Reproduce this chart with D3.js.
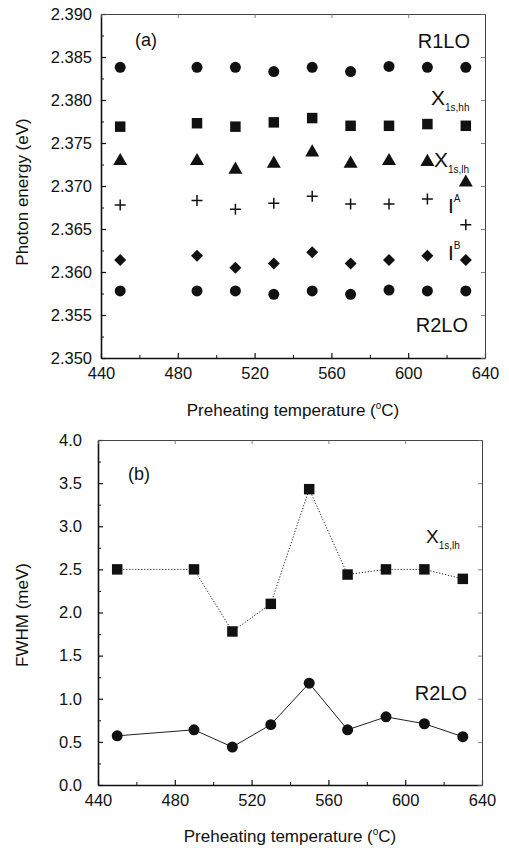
<!DOCTYPE html>
<html>
<head>
<meta charset="utf-8">
<script src="https://cdn.jsdelivr.net/npm/d3@7"></script>
<style>
  html, body { margin: 0; padding: 0; background: #fff; }
  svg { display: block; }
  text { font-family: "Liberation Sans", Arial, Helvetica, sans-serif; fill: #111; }
</style>
</head>
<body>
<svg id="chart" width="509" height="848"></svg>
<script>
// ---------- data ----------
const temps = [450, 490, 510, 530, 550, 570, 590, 610, 630];
// panel (a): photon energy (eV)
const r1lo  = [2.3838, 2.3838, 2.3838, 2.3833, 2.3838, 2.3833, 2.3839, 2.3838, 2.3838];
const x1shh = [2.3769, 2.3773, 2.3769, 2.3774, 2.3779, 2.3770, 2.3770, 2.3772, 2.3770];
const x1slh = [2.3729, 2.3729, 2.3719, 2.3726, 2.3739, 2.3726, 2.3729, 2.3728, 2.3704];
const iA    = [2.3678, 2.3683, 2.3673, 2.3680, 2.3688, 2.3679, 2.3679, 2.3685, 2.3655];
const iB    = [2.3614, 2.3619, 2.3605, 2.3610, 2.3623, 2.3610, 2.3614, 2.3619, 2.3614];
const r2lo  = [2.3578, 2.3578, 2.3578, 2.3574, 2.3578, 2.3574, 2.3579, 2.3578, 2.3578];
// panel (b): FWHM (meV)
const fwhmX1slh = [2.50, 2.50, 1.78, 2.10, 3.43, 2.44, 2.50, 2.50, 2.39];
const fwhmR2lo  = [0.57, 0.64, 0.44, 0.70, 1.18, 0.64, 0.79, 0.71, 0.56];
// ticks
const xTicks = [440, 480, 520, 560, 600, 640];
const xMinor = [460, 500, 540, 580, 620];
const yTicksA = [2.350, 2.355, 2.360, 2.365, 2.370, 2.375, 2.380, 2.385, 2.390];
const yTicksB = [0.0, 0.5, 1.0, 1.5, 2.0, 2.5, 3.0, 3.5, 4.0];

const svg = d3.select("#chart");

function drawFrame(g, x, y, yMajor, yMinor, yFmt, labelPad) {
  const [x0, x1] = x.range();
  const [y0, y1] = y.range();
  const bot = g.append("g").attr("transform", `translate(0,${y0})`)
    .call(d3.axisBottom(x).tickValues(xTicks).tickSize(-5).tickSizeOuter(0).tickPadding(9).tickFormat(d3.format("d")));
  g.append("g").attr("transform", `translate(0,${y0})`)
    .call(d3.axisBottom(x).tickValues(xMinor).tickSize(-3).tickSizeOuter(0).tickFormat(""))
    .select(".domain").remove();
  const lef = g.append("g").attr("transform", `translate(${x0},0)`)
    .call(d3.axisLeft(y).tickValues(yMajor).tickSize(-5).tickSizeOuter(0).tickPadding(labelPad).tickFormat(yFmt));
  g.append("g").attr("transform", `translate(${x0},0)`)
    .call(d3.axisLeft(y).tickValues(yMinor).tickSize(-3).tickSizeOuter(0).tickFormat(""))
    .select(".domain").remove();
  const top = g.append("g").attr("transform", `translate(0,${y1})`)
    .call(d3.axisTop(x).tickValues(xTicks).tickSize(-4).tickSizeOuter(0).tickFormat(""));
  const rig = g.append("g").attr("transform", `translate(${x1},0)`)
    .call(d3.axisRight(y).tickValues(yMajor).tickSize(-4).tickSizeOuter(0).tickFormat(""));
  [bot, lef].forEach(a => {
    a.select(".domain").attr("stroke", "#111").attr("stroke-width", 1.6);
    a.selectAll(".tick line").attr("stroke", "#111").attr("stroke-width", 1.2);
    a.selectAll(".tick text").style("font-size", "16.5px").attr("fill", "#111");
  });
  g.selectAll("g .tick line").attr("stroke", "#111");
  [top, rig].forEach(a => {
    a.select(".domain").attr("stroke", "#444").attr("stroke-width", 1);
    a.selectAll(".tick line").attr("stroke", "#666").attr("stroke-width", 0.8);
  });
}

function xTitle(g, x, yPos) {
  const t = g.append("text").attr("x", (x.range()[0] + x.range()[1]) / 2).attr("y", yPos)
    .attr("text-anchor", "middle").style("font-size", "17px");
  t.append("tspan").text("Preheating temperature (");
  t.append("tspan").text("o").style("font-size", "10px").attr("dy", -7);
  t.append("tspan").text("C)").attr("dy", 7);
}
function yTitle(g, xPos, yMid, txt) {
  g.append("text").attr("transform", `translate(${xPos},${yMid}) rotate(-90)`)
    .attr("text-anchor", "middle").style("font-size", "17px").text(txt);
}
function label(g, xPos, yPos, main, sub, anchor, size, subSize, sup) {
  const t = g.append("text").attr("x", xPos).attr("y", yPos)
    .attr("text-anchor", anchor || "start").style("font-size", (size || 19) + "px");
  t.append("tspan").text(main);
  if (sub) t.append("tspan").text(sub).style("font-size", (subSize || 10) + "px").attr("dy", sup ? -11 : 6);
}

// ---------- panel (a) ----------
const xa = d3.scaleLinear().domain([440, 640]).range([101, 485]);
const ya = d3.scaleLinear().domain([2.350, 2.390]).range([358, 14]);
const ga = svg.append("g");
drawFrame(ga, xa, ya, yTicksA, d3.range(0, 8).map(i => 2.3525 + i * 0.005), d3.format(".3f"), 9);

const sym = {
  circle: d3.symbol().type(d3.symbolCircle).size(95),
  square: d3.symbol().type(d3.symbolSquare).size(110),
  triangle: d3.symbol().type(d3.symbolTriangle).size(85)
};
const diamondPath = "M0,-6L6,0L0,6L-6,0Z";
const plusPath = "M-5.5,0H5.5M0,-5.5V5.5";

function points(g, x, y, vals, kind) {
  const p = g.append("g").selectAll("path").data(temps.map((t, i) => [t, vals[i]])).join("path")
    .attr("transform", d => `translate(${x(d[0])},${y(d[1])})`);
  if (kind === "diamond") p.attr("d", diamondPath).attr("fill", "#111");
  else if (kind === "plus") p.attr("d", plusPath).attr("stroke", "#111").attr("stroke-width", 1.5).attr("fill", "none");
  else p.attr("d", sym[kind]).attr("fill", "#111");
}
points(ga, xa, ya, r1lo, "circle");
points(ga, xa, ya, x1shh, "square");
points(ga, xa, ya, x1slh, "triangle");
points(ga, xa, ya, iA, "plus");
points(ga, xa, ya, iB, "diamond");
points(ga, xa, ya, r2lo, "circle");

label(ga, 135, 46, "(a)", null, "start", 18);
label(ga, 470, 48, "R1LO", null, "end", 20);
label(ga, 431, 105, "X", "1s,hh", "start", 21, 10);
label(ga, 434, 167, "X", "1s,lh", "start", 21, 10);
label(ga, 448, 213, "I", "A", "start", 21, 10, true);
label(ga, 448, 260, "I", "B", "start", 21, 10, true);
label(ga, 468, 332, "R2LO", null, "end", 20);

xTitle(ga, xa, 416);
yTitle(ga, 28, 192, "Photon energy (eV)");

// ---------- panel (b) ----------
const xb = d3.scaleLinear().domain([440, 640]).range([98, 482]);
const yb = d3.scaleLinear().domain([0, 4]).range([785, 440]);
const gb = svg.append("g");
drawFrame(gb, xb, yb, yTicksB, d3.range(0, 8).map(i => 0.25 + i * 0.5), d3.format(".1f"), 16);

const line = d3.line().x(d => xb(d[0])).y(d => yb(d[1]));
const dX = temps.map((t, i) => [t, fwhmX1slh[i]]);
const dR = temps.map((t, i) => [t, fwhmR2lo[i]]);
gb.append("path").datum(dX).attr("d", line).attr("fill", "none")
  .attr("stroke", "#222").attr("stroke-width", 1).attr("stroke-dasharray", "1.2,1.8");
gb.append("path").datum(dR).attr("d", line).attr("fill", "none")
  .attr("stroke", "#222").attr("stroke-width", 1);
gb.append("g").selectAll("path").data(dX).join("path")
  .attr("transform", d => `translate(${xb(d[0])},${yb(d[1])})`)
  .attr("d", sym.square).attr("fill", "#111");
gb.append("g").selectAll("path").data(dR).join("path")
  .attr("transform", d => `translate(${xb(d[0])},${yb(d[1])})`)
  .attr("d", sym.circle).attr("fill", "#111");

label(gb, 128, 480, "(b)", null, "start", 18);
label(gb, 426, 543, "X", "1s,lh", "start", 19, 10);
label(gb, 467, 700, "R2LO", null, "end", 20);

xTitle(gb, xb, 842);
yTitle(gb, 28, 615, "FWHM (meV)");
</script>
</body>
</html>
